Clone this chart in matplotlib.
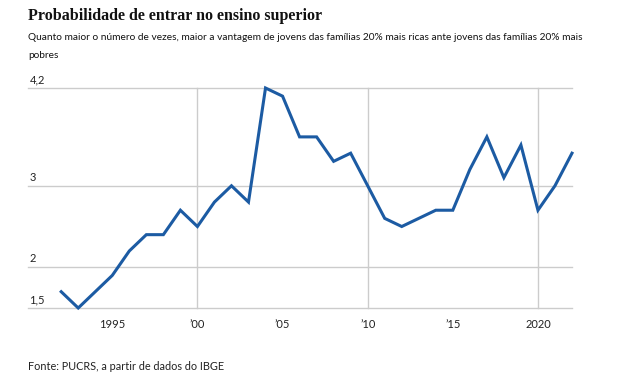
import matplotlib.pyplot as plt

years = list(range(1992, 2023))
ratio = [1.7, 1.5, 1.7, 1.9, 2.2, 2.4, 2.4, 2.7, 2.5, 2.8, 3.0, 2.8, 4.2, 4.1, 3.6, 3.6,
         3.3, 3.4, 3.0, 2.6, 2.5, 2.6, 2.7, 2.7, 3.2, 3.6, 3.1, 3.5, 2.7, 3.0, 3.4]
y_ticks = [1.5, 2, 3, 4.2]
y_labels = ["1,5", "2", "3", "4,2"]
x_ticks = [1995, 2000, 2005, 2010, 2015, 2020]
x_labels = ["1995", "\u201900", "\u201905", "\u201910", "\u201915", "2020"]
x_grid = [2000, 2010, 2020]

sans = "Lato"

W, H = 622, 390
fig = plt.figure(figsize=(W / 100, H / 100), dpi=100)
ax = fig.add_axes([28 / W, 1 - 308 / H, (572 - 28) / W, (308 - 88) / H])

ax.set_xlim(1990.05, 2022)
ax.set_ylim(1.5, 4.2)
for v in y_ticks:
    ax.axhline(v, color="#cccccc", lw=1.0, zorder=1, clip_on=False)
for v in x_grid:
    ax.axvline(v, color="#cccccc", lw=1.0, zorder=1, clip_on=False)

ax.plot(years, ratio, color="#1c5ba3", lw=2.2, solid_joinstyle="miter", zorder=3, clip_on=False)

for v, lab in zip(y_ticks, y_labels):
    ax.annotate(lab, (0, v), xycoords=("axes fraction", "data"), xytext=(1, 2),
                textcoords="offset points", ha="left", va="bottom",
                fontsize=8, family=sans, color="#222222")
for v, lab in zip(x_ticks, x_labels):
    ax.annotate(lab, (v, 0), xycoords=("data", "axes fraction"), xytext=(0, -8),
                textcoords="offset points", ha="center", va="top",
                fontsize=8, family=sans, color="#222222")

ax.set_xticks([])
ax.set_yticks([])
for s in ax.spines.values():
    s.set_visible(False)
ax.patch.set_alpha(0)

fig.text(28 / W, 1 - 16 / H, "Probabilidade de entrar no ensino superior",
         fontsize=11.5, fontweight="bold", family="Liberation Serif", va="center", color="#111111")
fig.text(28 / W, 1 - 37 / H,
         "Quanto maior o número de vezes, maior a vantagem de jovens das famílias 20% mais ricas ante jovens das famílias 20% mais",
         fontsize=7.3, family=sans, va="center", color="#111111")
fig.text(28 / W, 1 - 55 / H, "pobres", fontsize=7.3, family=sans, va="center", color="#111111")
fig.text(28 / W, 1 - 367 / H, "Fonte: PUCRS, a partir de dados do IBGE",
         fontsize=7.8, family=sans, va="center", color="#222222")

fig.savefig("out.png", dpi=100)
